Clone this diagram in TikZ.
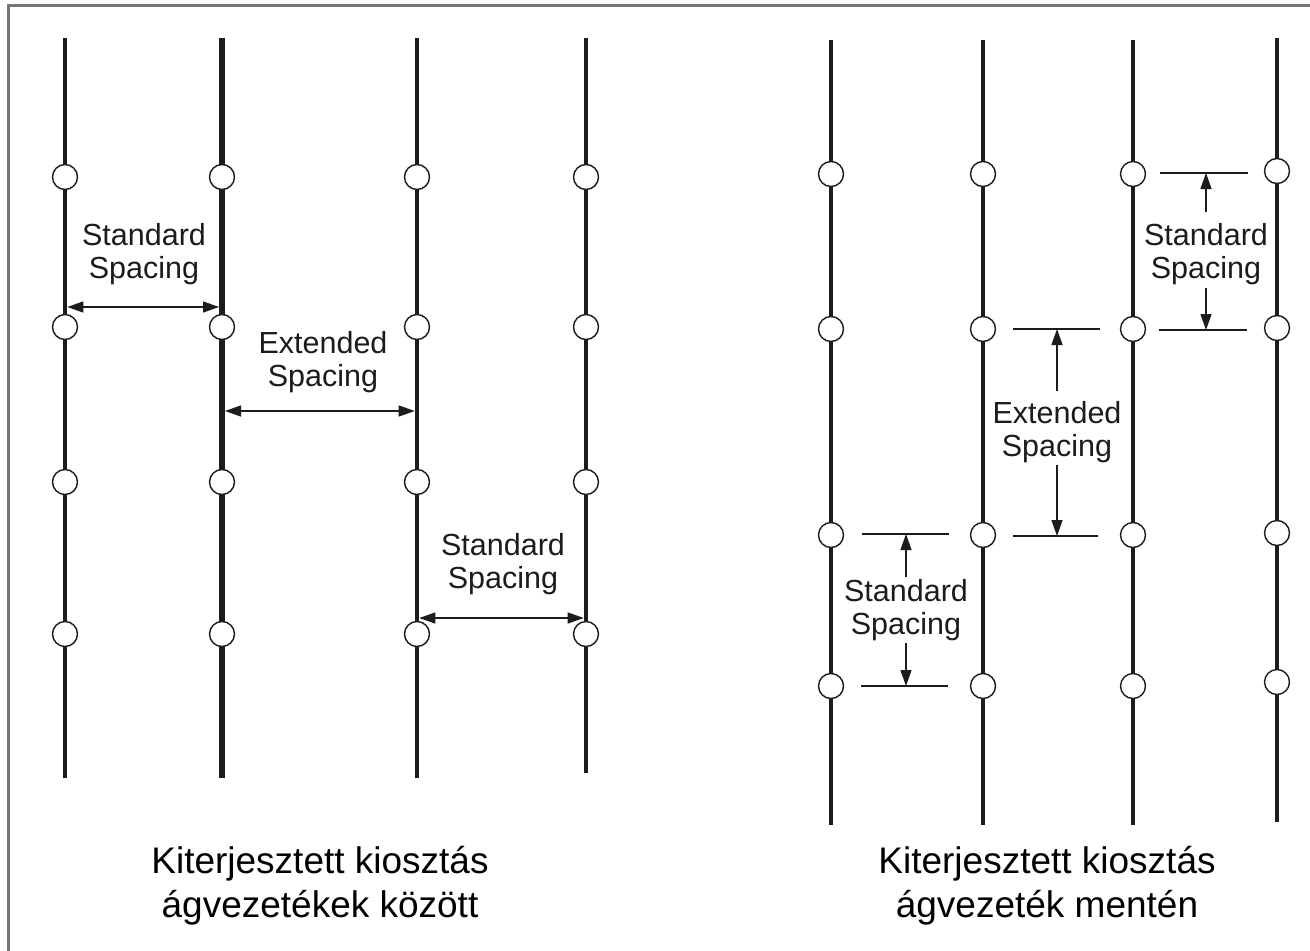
\documentclass[tikz,border=0pt]{standalone}
\usepackage{fontspec}
\setmainfont{Liberation Sans}
\usetikzlibrary{arrows.meta}
\definecolor{ink}{HTML}{1C1C1C}
\definecolor{framegray}{HTML}{767676}
\begin{document}
\begin{tikzpicture}[x=1pt,y=-1pt,
  pipe/.style={line width=4.5pt, draw=ink},
  heavypipe/.style={line width=6pt, draw=ink},
  sprinkler/.style={circle, draw=ink, line width=1.4pt, fill=white, minimum size=25pt, inner sep=0pt},
  dimarrow/.style={line width=1.3pt, draw=ink, -{Triangle[length=16pt,width=11pt]}},
  dimboth/.style={line width=1.3pt, draw=ink, {Triangle[length=16pt,width=11pt]}-{Triangle[length=16pt,width=11pt]}},
  extline/.style={line width=1.3pt, draw=ink},
  lbl/.style={align=center, font=\fontsize{30.5}{33.5}\selectfont, text=ink, inner sep=0pt},
  captiontext/.style={align=center, font=\fontsize{37}{44}\selectfont, text=black, inner sep=0pt}]
\useasboundingbox (0,0) rectangle (1310,951);
\fill[white] (0,0) rectangle (1310,951);
% outer frame (left and top edges)
\draw[framegray, line width=3pt] (8,960) -- (8,5) -- (1320,5);

% ---------- left panel: spacing between branch lines ----------
\foreach \n/\x/\b in {1/65/778, 2/222/778, 3/417/778, 4/586/773}{
  \coordinate (LT\n) at (\x,38);
  \coordinate (LB\n) at (\x,\b);
}
\draw[pipe] (LT1) -- (LB1);
\draw[heavypipe] (LT2) -- (LB2);
\draw[pipe] (LT3) -- (LB3);
\draw[pipe] (LT4) -- (LB4);

\foreach \n/\x in {1/65, 2/222, 3/417, 4/586}{
  \foreach \r/\y in {1/177, 2/327, 3/482, 4/634}{
    \node[sprinkler] (L\n-\r) at (\x,\y) {};
  }
}

\coordinate (a1s) at (67.3,307);  \coordinate (a1e) at (219,307);
\coordinate (a2s) at (225,411);   \coordinate (a2e) at (414.7,411);
\coordinate (a3s) at (419.3,618); \coordinate (a3e) at (583.7,618);
\draw[dimboth] (a1s) -- (a1e);
\draw[dimboth] (a2s) -- (a2e);
\draw[dimboth] (a3s) -- (a3e);

\node[lbl] (stdA) at (144,254) {Standard\\Spacing};
\node[lbl] (extA) at (323,362) {Extended\\Spacing};
\node[lbl] (stdB) at (503,564) {Standard\\Spacing};

% ---------- right panel: spacing along branch lines ----------
\foreach \n/\x/\t/\b in {1/831/40/825, 2/983/40/825, 3/1133/40/825, 4/1277/38/822}{
  \coordinate (RT\n) at (\x,\t);
  \coordinate (RB\n) at (\x,\b);
  \draw[pipe] (RT\n) -- (RB\n);
}

\foreach \n/\x in {1/831, 2/983, 3/1133}{
  \foreach \r/\y in {1/174, 2/329, 3/535, 4/686}{
    \node[sprinkler] (R\n-\r) at (\x,\y) {};
  }
}
\foreach \r/\y in {1/171, 2/328, 3/533, 4/682}{
  \node[sprinkler] (R4-\r) at (1277,\y) {};
}

% extension lines
\coordinate (e1a) at (862,534);  \coordinate (e1b) at (949,534);
\coordinate (e2a) at (861,686);  \coordinate (e2b) at (948,686);
\coordinate (e3a) at (1013,329); \coordinate (e3b) at (1100,329);
\coordinate (e4a) at (1013,536); \coordinate (e4b) at (1098,536);
\coordinate (e5a) at (1160,173); \coordinate (e5b) at (1248,173);
\coordinate (e6a) at (1159,330); \coordinate (e6b) at (1247,330);
\foreach \i in {1,...,6}{ \draw[extline] (e\i a) -- (e\i b); }

\node[lbl] (stdC) at (906,610) {Standard\\Spacing};
\node[lbl] (extB) at (1057,432) {Extended\\Spacing};
\node[lbl] (stdD) at (1206,254) {Standard\\Spacing};

\draw[dimarrow] ([yshift=2pt]stdC.north) -- (906,534);
\draw[dimarrow] ([yshift=-2pt]stdC.south) -- (906,686);
\draw[dimarrow] ([yshift=10pt]extB.north) -- (1057,329);
\draw[dimarrow] ([yshift=-2pt]extB.south) -- (1057,536);
\draw[dimarrow] ([yshift=11pt]stdD.north) -- (1206,173);
\draw[dimarrow] ([yshift=-3pt]stdD.south) -- (1206,330);

% captions
\node[captiontext] (capL) at (320,886) {Kiterjesztett kiosztás\\ágvezetékek között};
\node[captiontext] (capR) at (1047,886) {Kiterjesztett kiosztás\\ágvezeték mentén};
\end{tikzpicture}
\end{document}
